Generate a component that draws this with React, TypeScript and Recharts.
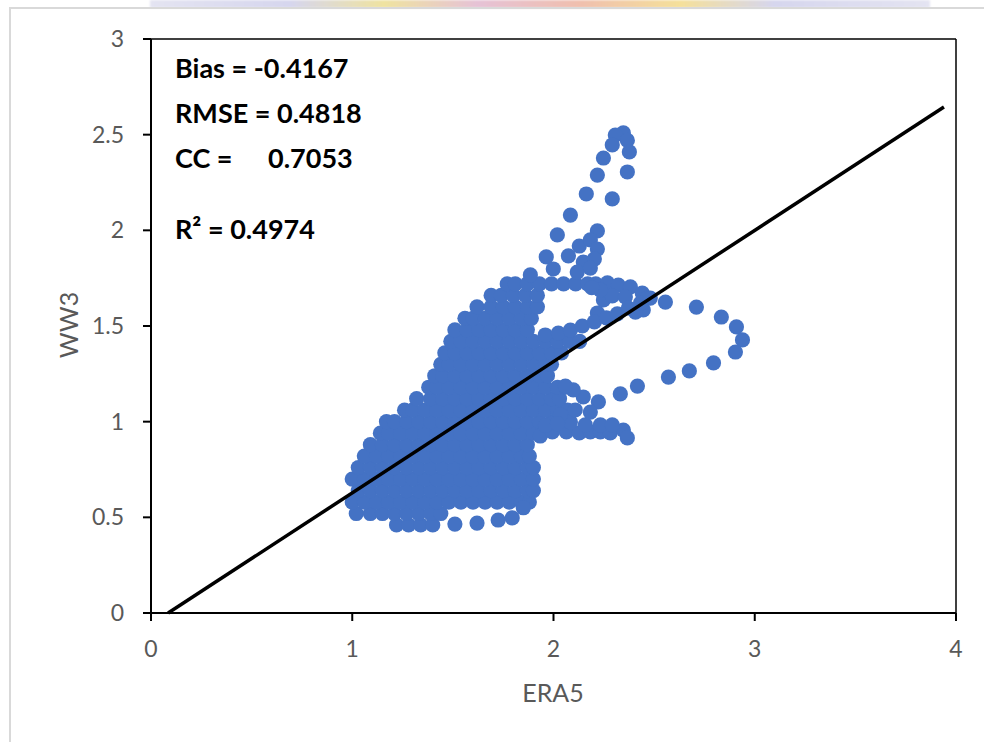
import { ScatterChart, Scatter, XAxis, YAxis, ReferenceLine } from 'recharts';

const BLUE = '#4472C4';
const AXIS_TEXT = '#595959';
const FONT = 'Lato, "Noto Sans", sans-serif';

// main cloud, one entry per row: [WW3, ERA5 values along that row]
const cloudRows: [number, number[]][] = [
  [0.46, [1.22, 1.28, 1.34, 1.4]],
  [0.52, [1.02, 1.09, 1.15, 1.21, 1.27, 1.33, 1.39, 1.44]],
  [0.58, [1.0, 1.06, 1.12, 1.18, 1.24, 1.3, 1.36, 1.42, 1.48, 1.54, 1.6, 1.66, 1.72, 1.78, 1.84, 1.88]],
  [0.64, [1.03, 1.09, 1.15, 1.21, 1.27, 1.33, 1.39, 1.45, 1.51, 1.57, 1.63, 1.69, 1.75, 1.81, 1.87, 1.9]],
  [0.7, [1.0, 1.06, 1.12, 1.18, 1.24, 1.3, 1.36, 1.42, 1.48, 1.54, 1.6, 1.66, 1.72, 1.78, 1.84, 1.9]],
  [0.76, [1.03, 1.09, 1.15, 1.21, 1.27, 1.33, 1.39, 1.45, 1.51, 1.57, 1.63, 1.69, 1.75, 1.81, 1.87, 1.9]],
  [0.82, [1.06, 1.12, 1.18, 1.24, 1.3, 1.36, 1.42, 1.48, 1.54, 1.6, 1.66, 1.72, 1.78, 1.84, 1.88]],
  [0.88, [1.09, 1.15, 1.21, 1.27, 1.33, 1.39, 1.45, 1.51, 1.57, 1.63, 1.69, 1.75, 1.81, 1.87]],
  [0.94, [1.14, 1.18, 1.24, 1.3, 1.36, 1.42, 1.48, 1.54, 1.6, 1.66, 1.72, 1.78, 1.84, 1.9]],
  [1.0, [1.17, 1.21, 1.27, 1.33, 1.39, 1.45, 1.51, 1.57, 1.63, 1.69, 1.75, 1.81, 1.87, 1.93, 1.99, 2.04]],
  [1.06, [1.26, 1.3, 1.36, 1.42, 1.48, 1.54, 1.6, 1.66, 1.72, 1.78, 1.84, 1.9, 1.96, 2.02, 2.07]],
  [1.12, [1.32, 1.39, 1.45, 1.51, 1.57, 1.63, 1.69, 1.75, 1.81, 1.87, 1.93, 1.99, 2.03]],
  [1.18, [1.38, 1.42, 1.48, 1.54, 1.6, 1.66, 1.72, 1.78, 1.84, 1.9, 1.96, 2.02, 2.06]],
  [1.24, [1.41, 1.45, 1.51, 1.57, 1.63, 1.69, 1.75, 1.81, 1.87, 1.93, 1.97]],
  [1.3, [1.44, 1.48, 1.54, 1.6, 1.66, 1.72, 1.78, 1.84, 1.9, 1.96, 1.99]],
  [1.36, [1.46, 1.51, 1.57, 1.63, 1.69, 1.75, 1.81, 1.87, 1.93, 1.99, 2.04]],
  [1.42, [1.49, 1.54, 1.6, 1.66, 1.72, 1.78, 1.84, 1.9, 1.96, 2.02, 2.08, 2.13]],
  [1.48, [1.51, 1.57, 1.63, 1.69, 1.75, 1.81, 1.87]],
  [1.54, [1.56, 1.6, 1.66, 1.72, 1.78, 1.84, 1.89]],
  [1.6, [1.62, 1.69, 1.75, 1.81, 1.87, 1.92]],
  [1.66, [1.69, 1.74, 1.8, 1.86, 1.92]],
  [1.72, [1.77, 1.81, 1.87, 1.93, 1.99, 2.05, 2.11, 2.17, 2.21]],
];

// [ERA5, WW3]
const upperArm: [number, number][] = [
  [2.347, 2.509], [2.307, 2.498], [2.367, 2.47], [2.292, 2.446], [2.377, 2.41], [2.248, 2.378],
  [2.367, 2.305], [2.218, 2.289], [2.292, 2.164], [2.163, 2.19], [2.084, 2.08], [2.019, 1.976],
  [2.218, 1.997], [2.128, 1.918], [2.183, 1.95], [2.218, 1.902], [2.074, 1.866], [1.964, 1.861],
  [2.148, 1.834], [2.203, 1.85], [1.999, 1.798], [1.885, 1.767], [2.118, 1.782], [2.183, 1.803],
];

const topRight: [number, number][] = [
  [2.268, 1.725], [2.322, 1.714], [2.382, 1.704], [2.441, 1.672], [2.466, 1.646], [2.446, 1.584],
  [2.407, 1.573], [2.218, 1.568], [2.248, 1.636], [2.292, 1.657], [2.357, 1.652], [2.233, 1.688],
  [2.19, 1.7],
];

const band: [number, number][] = [
  [1.959, 1.453], [2.024, 1.463], [2.084, 1.479], [2.143, 1.5], [2.203, 1.521],
  [2.263, 1.542], [2.317, 1.563], [2.372, 1.594], [2.432, 1.62], [2.481, 1.646],
];

const rightLoop: [number, number][] = [
  [2.556, 1.625], [2.71, 1.599], [2.834, 1.547], [2.909, 1.495], [2.939, 1.427], [2.904, 1.364],
  [2.795, 1.307], [2.675, 1.265], [2.571, 1.233], [2.417, 1.186], [2.332, 1.145], [2.223, 1.103],
  [2.148, 1.129], [2.098, 1.166], [2.059, 1.186],
];

const lowerArm: [number, number][] = [
  [1.934, 0.925], [1.994, 0.946], [2.064, 0.946], [2.128, 0.941], [2.183, 0.946], [2.233, 0.946],
  [2.282, 0.941], [2.347, 0.956], [2.367, 0.915], [2.233, 0.983], [2.292, 0.983], [2.158, 0.983],
  [2.084, 0.998], [2.034, 1.035], [2.108, 1.061], [2.183, 1.05], [1.96, 0.98], [2.02, 0.99],
];

const bottomStray: [number, number][] = [
  [1.51, 0.465], [1.62, 0.47], [1.725, 0.486], [1.795, 0.497], [1.85, 0.55],
];

const xTicks = [0, 1, 2, 3, 4];
const yTicks = [0, 0.5, 1, 1.5, 2, 2.5, 3];
const trendX = [0.085, 3.94];
const trendY = [0, 2.645];

const toPts = (arr: [number, number][]) => arr.map(([x, y]) => ({ x, y }));

const points = [
  ...cloudRows.flatMap(([y, xs]) => xs.map((x) => ({ x, y }))),
  ...toPts(upperArm),
  ...toPts(topRight),
  ...toPts(band),
  ...toPts(rightLoop),
  ...toPts(lowerArm),
  ...toPts(bottomStray),
];
const trend = trendX.map((x, i) => ({ x, y: trendY[i] }));

const dot = (p: any) => <circle cx={p.cx} cy={p.cy} r={7.6} fill={BLUE} />;
const noDot = () => <g />;

const tickStyle = { fill: AXIS_TEXT, fontSize: 23, fontFamily: FONT };
const statStyle: React.CSSProperties = {
  position: 'absolute',
  left: 175,
  fontFamily: FONT,
  fontWeight: 700,
  fontSize: 27,
  lineHeight: '30px',
  color: '#000',
  whiteSpace: 'pre',
};

export default function App() {
  return (
    <div style={{ position: 'absolute', left: 0, top: 0, width: 984, height: 742, background: '#fff', overflow: 'hidden' }}>
      <div
        style={{
          position: 'absolute', left: 150, top: 0, width: 780, height: 8,
          background: 'linear-gradient(90deg, #e4e4f2 0%, #d6d6ee 18%, #efe3a0 30%, #e6c2d6 42%, #f0bfae 55%, #f5e09a 68%, #d6d6ee 80%, #e4e4f2 100%)',
          filter: 'blur(1px)',
        }}
      />
      <div style={{ position: 'absolute', left: 9, top: 7, width: 1000, height: 760, border: '2px solid #d9d9d9' }} />
      <div style={{ position: 'absolute', left: 0, top: 0 }}>
        <ScatterChart width={984} height={742} margin={{ top: 39, right: 28, bottom: 0, left: 0 }}>
          <XAxis
            type="number"
            dataKey="x"
            domain={[0, 4]}
            ticks={xTicks}
            height={129}
            tick={tickStyle}
            tickSize={8}
            tickMargin={20}
            axisLine={{ stroke: '#000', strokeWidth: 2 }}
            tickLine={{ stroke: '#000', strokeWidth: 2 }}
          />
          <YAxis
            type="number"
            dataKey="y"
            domain={[0, 3]}
            ticks={yTicks}
            width={151}
            tick={tickStyle}
            tickSize={8}
            tickMargin={19}
            axisLine={{ stroke: '#000', strokeWidth: 2 }}
            tickLine={{ stroke: '#000', strokeWidth: 2 }}
          />
          <ReferenceLine y={3} stroke="#000" strokeWidth={1.5} />
          <ReferenceLine x={4} stroke="#000" strokeWidth={1.5} />
          <Scatter data={points} shape={dot} isAnimationActive={false} />
          <Scatter data={trend} shape={noDot} line={{ stroke: '#000', strokeWidth: 3.5 }} isAnimationActive={false} />
        </ScatterChart>
      </div>
      <div style={{ ...statStyle, top: 53 }}>Bias = -0.4167</div>
      <div style={{ ...statStyle, top: 98 }}>RMSE = 0.4818</div>
      <div style={{ ...statStyle, top: 143 }}>
        CC =<span style={{ position: 'absolute', left: 93 }}>0.7053</span>
      </div>
      <div style={{ ...statStyle, top: 214 }}>R² = 0.4974</div>
      <div
        style={{
          position: 'absolute', left: 453, width: 200, top: 677, textAlign: 'center',
          fontFamily: FONT, fontSize: 25, lineHeight: '30px', color: AXIS_TEXT,
        }}
      >
        ERA5
      </div>
      <div
        style={{
          position: 'absolute', left: 68 - 100, width: 200, top: 325 - 15, textAlign: 'center',
          fontFamily: FONT, fontSize: 25, lineHeight: '30px', color: AXIS_TEXT,
          transform: 'rotate(-90deg)',
        }}
      >
        WW3
      </div>
    </div>
  );
}
